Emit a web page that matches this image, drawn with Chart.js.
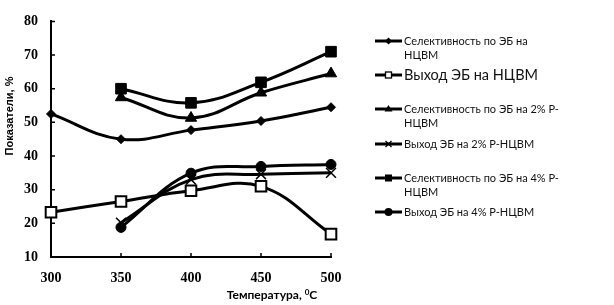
<!DOCTYPE html>
<html>
<head>
<meta charset="utf-8">
<script src="https://cdn.jsdelivr.net/npm/chart.js@4.4.1/dist/chart.umd.min.js"></script>
<style>
  body { margin: 0; background: #fff; }
  #wrap { position: relative; width: 614px; height: 305px; overflow: hidden; }
  #c { position: absolute; left: 0; top: 0; }
  #ytitle {
    position: absolute; left: -50px; top: 109px; width: 120px; height: 14px;
    line-height: 14px; text-align: center; transform: rotate(-90deg);
    font: bold 11px "Liberation Sans", Arial, sans-serif; color: #000;
  }
  #xtitle {
    position: absolute; left: 172px; top: 287px; width: 200px; height: 16px;
    line-height: 16px; text-align: center;
    font: bold 12px Lato, "Open Sans", sans-serif; color: #000;
  }
  #xtitle sup { font-size: 8px; vertical-align: 4px; line-height: 0; }
  .item { position: absolute; left: 375px; font-family: Lato, "Open Sans", sans-serif; color: #111; }
  .item svg { position: absolute; left: 0; }
  .item .txt { position: absolute; left: 29px; white-space: nowrap; }
</style>
</head>
<body>
<div id="wrap">
  <canvas id="c" width="614" height="305"></canvas>
  <div id="ytitle">Показатели, %</div>
  <div id="xtitle">Температура, <sup>0</sup>С</div>
  <div id="legend"></div>
</div>
<script>
// temperatures, °C
const temps = [300, 350, 400, 450, 500];

// values (null = no point)
const selNcvm   = [52.5, 45.0, 47.7, 50.4, 54.5];
const yieldNcvm = [23.3, 26.5, 29.7, 31.0, 16.8];
const sel2      = [null, 57.4, 51.3, 58.8, 64.5];
const yield2    = [null, 20.2, 33.0, 34.6, 35.0];
const sel4      = [null, 60.0, 55.8, 61.9, 71.0];
const yield4    = [null, 18.8, 34.9, 36.9, 37.5];

const seriesNames = [
  ['Селективность по ЭБ на', 'НЦВМ'],
  ['Выход ЭБ на НЦВМ'],
  ['Селективность по ЭБ на 2% Р-', 'НЦВМ'],
  ['Выход ЭБ на 2% Р-НЦВМ'],
  ['Селективность по ЭБ на 4% Р-', 'НЦВМ'],
  ['Выход ЭБ на 4% Р-НЦВМ']
];

const xTicks = [300, 350, 400, 450, 500];
const yTicks = [10, 20, 30, 40, 50, 60, 70, 80];

function toPoints(vals) {
  const pts = [];
  vals.forEach((v, i) => { if (v !== null) pts.push({ x: temps[i], y: v }); });
  return pts;
}

// marker look per series
const markers = [
  { style: 'rectRot',  r: 4.5, fill: '#000', bw: 1 },
  { style: 'rect',     r: 7.5, fill: '#fff', bw: 2 },
  { style: 'triangle', r: 6.5, fill: '#000', bw: 1 },
  { style: 'crossRot', r: 7,   fill: '#000', bw: 1.5 },
  { style: 'rect',     r: 7.5, fill: '#000', bw: 1 },
  { style: 'circle',   r: 5,   fill: '#000', bw: 1 }
];

const allVals = [selNcvm, yieldNcvm, sel2, yield2, sel4, yield4];

const datasets = allVals.map((vals, i) => ({
  label: seriesNames[i].join(' '),
  data: toPoints(vals),
  borderColor: '#000',
  borderWidth: 3,
  tension: 0.4,
  fill: false,
  clip: false,
  pointStyle: markers[i].style,
  pointRadius: markers[i].r,
  pointBackgroundColor: markers[i].fill,
  pointBorderColor: '#000',
  pointBorderWidth: markers[i].bw
}));

// small inward tick marks (the original has ticks pointing into the plot)
const innerTicks = {
  id: 'innerTicks',
  afterDatasetsDraw(chart) {
    const ctx = chart.ctx;
    const xs = chart.scales.x, ys = chart.scales.y;
    ctx.save();
    ctx.strokeStyle = '#000';
    ctx.lineWidth = 1.5;
    ctx.beginPath();
    xTicks.slice(1).forEach(t => {
      const px = xs.getPixelForValue(t);
      ctx.moveTo(px, ys.bottom);
      ctx.lineTo(px, ys.bottom - 4);
    });
    yTicks.slice(1).forEach(t => {
      const py = ys.getPixelForValue(t);
      ctx.moveTo(xs.left, py);
      ctx.lineTo(xs.left + 4, py);
    });
    ctx.stroke();
    ctx.restore();
  }
};

const tickFont = { family: '"Liberation Serif", "Times New Roman", serif', size: 14, weight: 'bold' };

new Chart(document.getElementById('c'), {
  type: 'line',
  data: { datasets: datasets },
  options: {
    responsive: false,
    animation: false,
    layout: { padding: { left: 0, top: 17, right: 283, bottom: 0 } },
    plugins: { legend: { display: false }, tooltip: { enabled: false } },
    scales: {
      x: {
        type: 'linear', min: 300, max: 500,
        afterBuildTicks: s => { s.ticks = xTicks.map(v => ({ value: v })); },
        afterFit: s => { s.height = 48; },
        grid: { display: false, drawTicks: false },
        border: { color: '#000', width: 2 },
        ticks: { color: '#000', font: tickFont, padding: 13, maxRotation: 0 }
      },
      y: {
        min: 10, max: 80,
        afterBuildTicks: s => { s.ticks = yTicks.map(v => ({ value: v })); },
        afterFit: s => { s.width = 51; },
        grid: { display: false, drawTicks: false },
        border: { color: '#000', width: 2 },
        ticks: { color: '#000', font: tickFont, padding: 13 }
      }
    }
  },
  plugins: [innerTicks]
});

// legend as html text with small svg markers
function markerSvg(style) {
  let m = '';
  if (style === 'rectRot') m = '<polygon points="13.5,3.5 17,7 13.5,10.5 10,7" fill="#000"/>';
  else if (style === 'rectOpen') m = '<rect x="10.5" y="4" width="6" height="6" fill="#fff" stroke="#000" stroke-width="1.3"/>';
  else if (style === 'triangle') m = '<polygon points="13.5,3 17.5,9.5 9.5,9.5" fill="#000"/>';
  else if (style === 'crossRot') m = '<path d="M10.5,4 L16.5,10 M16.5,4 L10.5,10" stroke="#000" stroke-width="1.3"/>';
  else if (style === 'rect') m = '<rect x="10" y="3.5" width="7" height="7" fill="#000"/>';
  else if (style === 'circle') m = '<circle cx="13.5" cy="7" r="4" fill="#000"/>';
  return '<svg width="28" height="14" viewBox="0 0 28 14"><line x1="0" y1="7" x2="27" y2="7" stroke="#000" stroke-width="3"/>' + m + '</svg>';
}

const legendStyles = ['rectRot', 'rectOpen', 'triangle', 'crossRot', 'rect', 'circle'];
const legend = document.getElementById('legend');
seriesNames.forEach((lines, i) => {
  const big = i === 1;
  const lh = big ? 18 : 14;
  const cy = 40.7 + i * 34.3;
  const div = document.createElement('div');
  div.className = 'item';
  div.style.top = (cy - lh / 2) + 'px';
  div.innerHTML = '<span style="top:' + (lh / 2 - 7) + 'px;position:absolute">' + markerSvg(legendStyles[i]) + '</span>' +
    '<div class="txt" style="font-size:' + (big ? 14.5 : 11) + 'px;line-height:' + lh + 'px">' + lines.join('<br>') + '</div>';
  legend.appendChild(div);
});
</script>
</body>
</html>
